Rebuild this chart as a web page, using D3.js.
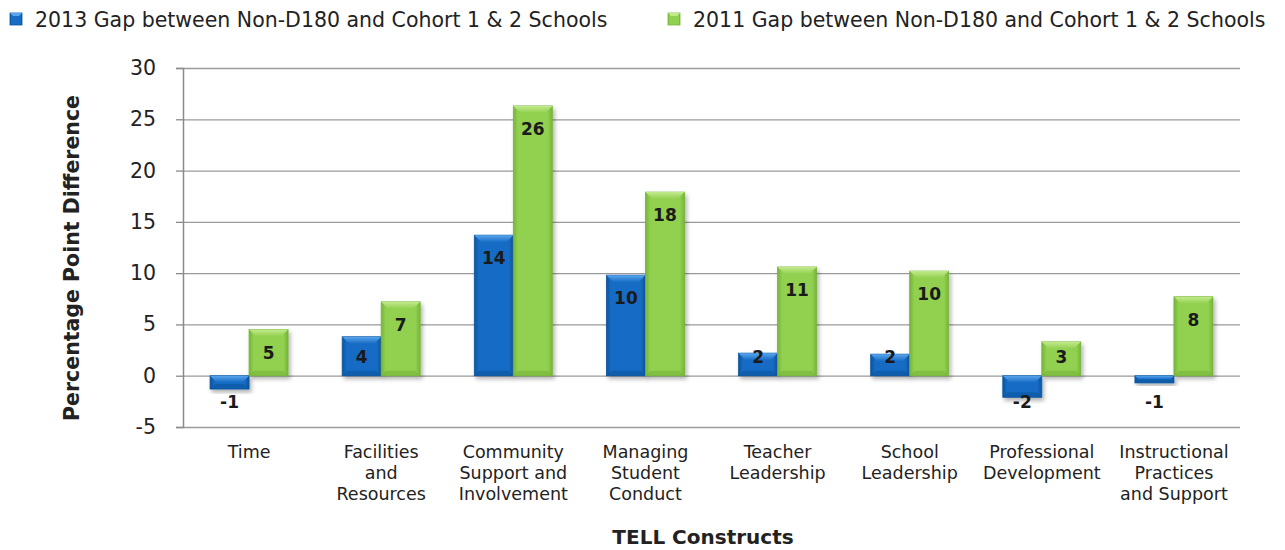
<!DOCTYPE html>
<html>
<head>
<meta charset="utf-8">
<script src="https://cdn.jsdelivr.net/npm/d3@7"></script>
<style>
  body { margin: 0; background: #fff; }
  text { font-family: "DejaVu Sans", sans-serif; }
</style>
</head>
<body>
<div class="chart"></div>
<script>
// TELL constructs, gap values
const categories = [
  ["Time"],
  ["Facilities", "and", "Resources"],
  ["Community", "Support and", "Involvement"],
  ["Managing", "Student", "Conduct"],
  ["Teacher", "Leadership"],
  ["School", "Leadership"],
  ["Professional", "Development"],
  ["Instructional", "Practices", "and Support"]
];
const gap2013 = [-1.3, 3.8, 13.7, 9.8, 2.2, 2.1, -2.1, -0.7];
const gap2011 = [4.5, 7.2, 26.3, 17.9, 10.6, 10.2, 3.3, 7.7];
const seriesNames = [
  "2013 Gap between Non-D180 and Cohort 1 & 2 Schools",
  "2011 Gap between Non-D180 and Cohort 1 & 2 Schools"
];
const yTicks = [-5, 0, 5, 10, 15, 20, 25, 30];

const W = 1285, H = 550;
const margin = {top: 68, right: 45, bottom: 123, left: 183};
const w = W - margin.left - margin.right;
const h = H - margin.top - margin.bottom;

const svg = d3.select('.chart').append('svg')
  .attr('width', W)
  .attr('height', H);

const defs = svg.append('defs');
const colors = [
  {id: 'blue', dark: '#0b559e', mid: '#176cc4', light: '#5aa6ee'},
  {id: 'green', dark: '#76b43a', mid: '#92d050', light: '#c2ea8c'}
];
colors.forEach(c => {
  let g = defs.append('linearGradient').attr('id', 'g-' + c.id)
    .attr('x1', 0).attr('x2', 1).attr('y1', 0).attr('y2', 0);
  g.append('stop').attr('offset', '0%').attr('stop-color', c.dark);
  g.append('stop').attr('offset', '12%').attr('stop-color', c.mid);
  g.append('stop').attr('offset', '88%').attr('stop-color', c.mid);
  g.append('stop').attr('offset', '100%').attr('stop-color', c.dark);
  let t = defs.append('linearGradient').attr('id', 't-' + c.id)
    .attr('x1', 0).attr('x2', 0).attr('y1', 0).attr('y2', 1);
  t.append('stop').attr('offset', '0%').attr('stop-color', c.light);
  t.append('stop').attr('offset', '100%').attr('stop-color', c.mid);
});
const shadow = defs.append('filter').attr('id', 'shadow')
  .attr('x', '-20%').attr('y', '-20%').attr('width', '150%').attr('height', '150%');
shadow.append('feDropShadow').attr('dx', 2).attr('dy', 3).attr('stdDeviation', 2)
  .attr('flood-color', '#000').attr('flood-opacity', 0.3);

const g = svg.append('g')
  .attr('transform', `translate(${margin.left},${margin.top})`);

const x = d3.scaleBand()
  .domain(d3.range(categories.length))
  .range([0, w]);
const x1 = d3.scaleBand()
  .domain([0, 1])
  .range([0, 78])
  .padding(0);
const y = d3.scaleLinear()
  .domain([-5, 30])
  .range([h, 0]);

// gridlines
g.append('g')
  .call(d3.axisLeft(y).tickValues(yTicks).tickSize(-w).tickFormat(''))
  .call(s => s.select('.domain').remove())
  .call(s => s.selectAll('line').attr('stroke', '#9a9a9a').attr('stroke-width', 1.3));

// y axis
g.append('g')
  .call(d3.axisLeft(y).tickValues(yTicks).tickSize(7).tickPadding(20).tickFormat(d => String(d)))
  .call(s => s.select('.domain').attr('stroke', '#8a8a8a').attr('stroke-width', 1.5))
  .call(s => s.selectAll('line').attr('stroke', '#8a8a8a').attr('stroke-width', 1.3))
  .call(s => s.selectAll('text').attr('font-size', 20.5).attr('fill', '#222')
    .attr('font-family', '"DejaVu Sans", sans-serif'));

// bars
const series = [gap2013, gap2011];
series.forEach((vals, si) => {
  let c = colors[si];
  let bars = g.selectAll('.bar' + si)
    .data(vals)
    .enter().append('g')
      .attr('class', 'bar' + si)
      .attr('transform', (d, i) => `translate(${x(i) + x.bandwidth() / 2 - 39 + x1(si)},0)`);
  let bw = x1.bandwidth();
  bars.append('rect')
    .attr('x', 0)
    .attr('width', bw)
    .attr('y', d => y(Math.max(0, d)))
    .attr('height', d => Math.abs(y(d) - y(0)))
    .attr('fill', `url(#g-${c.id})`)
    .attr('stroke', c.dark)
    .attr('stroke-width', 0.8)
    .attr('filter', 'url(#shadow)');
  // top bevel
  bars.append('path')
    .attr('d', d => {
      let top = y(Math.max(0, d)), bh = Math.abs(y(d) - y(0));
      let b = Math.min(7, bh / 2);
      return `M0,${top} L${bw},${top} L${bw - b},${top + b} L${b},${top + b} Z`;
    })
    .attr('fill', `url(#t-${c.id})`);
  // bottom bevel
  bars.append('path')
    .attr('d', d => {
      let top = y(Math.max(0, d)), bh = Math.abs(y(d) - y(0));
      let b = Math.min(5, bh / 2), bot = top + bh;
      return `M0,${bot} L${bw},${bot} L${bw - b},${bot - b} L${b},${bot - b} Z`;
    })
    .attr('fill', c.dark)
    .attr('opacity', 0.6);
  bars.append('text')
    .attr('x', bw / 2)
    .attr('y', d => d >= 0 ? Math.min(y(d) + 29, y(0) - 13) : y(0) + 32)
    .attr('text-anchor', 'middle')
    .attr('font-size', 17)
    .attr('font-weight', 'bold')
    .attr('fill', '#1a1a1a')
    .text(d => String(Math.round(d)));
});

// category labels
const cat = g.selectAll('.cat')
  .data(categories)
  .enter().append('text')
    .attr('class', 'cat')
    .attr('text-anchor', 'middle')
    .attr('font-size', 17.5)
    .attr('fill', '#222')
    .attr('transform', (d, i) => `translate(${x(i) + x.bandwidth() / 2},${h + 31})`);
cat.selectAll('tspan')
  .data(d => d)
  .enter().append('tspan')
    .attr('x', 0)
    .attr('dy', (d, i) => i === 0 ? 0 : 21)
    .text(d => d);

// axis titles
svg.append('text')
  .attr('transform', `translate(79,258) rotate(-90)`)
  .attr('text-anchor', 'middle')
  .attr('font-size', 20.5)
  .attr('font-weight', 'bold')
  .attr('fill', '#222')
  .text('Percentage Point Difference');

svg.append('text')
  .attr('x', 703)
  .attr('y', 544)
  .attr('text-anchor', 'middle')
  .attr('font-size', 20)
  .attr('font-weight', 'bold')
  .attr('fill', '#222')
  .text('TELL Constructs');

// legend
const legendX = [10, 668];
seriesNames.forEach((name, i) => {
  let lg = svg.append('g').attr('transform', `translate(${legendX[i]},13)`);
  lg.append('rect').attr('width', 12).attr('height', 12)
    .attr('fill', `url(#g-${colors[i].id})`)
    .attr('stroke', colors[i].dark).attr('stroke-width', 0.8);
  lg.append('path').attr('d', 'M0,0 L12,0 L9,3 L3,3 Z').attr('fill', colors[i].light);
  lg.append('text')
    .attr('x', 25)
    .attr('y', 14)
    .attr('font-size', 20.5)
    .attr('fill', '#222')
    .text(name);
});
</script>
</body>
</html>
